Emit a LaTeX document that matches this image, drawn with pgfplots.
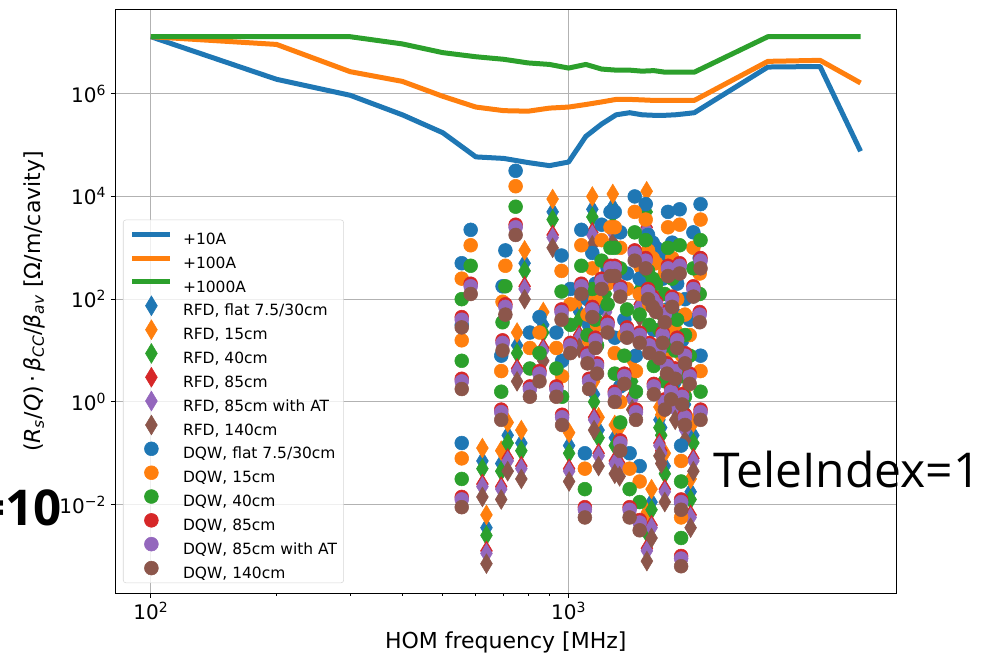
\documentclass[border=0pt]{standalone}
\usepackage{fontspec}
\setmainfont{DejaVu Sans}[ItalicFont={DejaVu Sans Oblique},BoldFont={DejaVu Sans Bold}]
\newfontfamily\telefont{Open Sans}
\usepackage{pgfplots}
\usepackage{pgfplotstable}
\pgfplotsset{compat=1.18}
\definecolor{cB}{HTML}{1F77B4}
\definecolor{cO}{HTML}{FF7F0E}
\definecolor{cG}{HTML}{2CA02C}
\definecolor{cR}{HTML}{D62728}
\definecolor{cP}{HTML}{9467BD}
\definecolor{cN}{HTML}{8C564B}
\pgfplotsset{
 lineleg/.style={legend image code/.code={\path[draw=none,fill=none] (0pt,-4.8pt) rectangle (38pt,12.8pt); \draw[##1,line width=3.75pt,fill opacity=1,draw opacity=1] (0pt,4pt) -- (28.5pt,4pt);}},
 markleg/.style={legend image code/.code={\path[draw=none,fill=none] (0pt,-4.8pt) rectangle (38pt,12.8pt); \draw[mark repeat=2,mark phase=2,##1,fill opacity=1,draw opacity=1] plot coordinates {(0pt,4pt) (14.25pt,4pt) (28.5pt,4pt)};}},
 dia/.style={only marks, mark=diamond*, mark size=7.4pt, mark options={xscale=0.8}, color=#1, markleg},
 cir/.style={only marks, mark=*, mark size=5.2pt, color=#1, markleg},
 hl/.style={line width=3.75pt, color=#1, line join=round, no marks, lineleg},
}
\pgfplotstableread{
f a b c
100 1.29e7 1.29e7 1.29e7
200 1.91e6 9.12e6 1.29e7
300 9.33e5 2.69e6 1.29e7
400 3.89e5 1.74e6 9.33e6
500 1.74e5 8.91e5 6.31e6
600 5.89e4 5.50e5 5.25e6
700 5.50e4 4.68e5 4.68e6
800 4.57e4 4.57e5 3.98e6
900 3.98e4 5.25e5 3.72e6
1000 4.68e4 5.50e5 3.16e6
1100 1.48e5 6.17e5 3.72e6
1200 2.57e5 6.92e5 3.02e6
1300 3.89e5 7.76e5 2.88e6
1400 4.27e5 7.76e5 2.88e6
1500 3.89e5 7.59e5 2.75e6
1600 3.80e5 7.41e5 2.82e6
1700 3.80e5 7.41e5 2.63e6
1800 3.89e5 7.41e5 2.63e6
1900 4.07e5 7.41e5 2.63e6
2000 4.27e5 7.41e5 2.63e6
3000 3.31e6 4.27e6 1.29e7
4000 3.39e6 4.47e6 1.29e7
5000 7.59e4 1.62e6 1.29e7
}\lines
\pgfplotstableread{
f b o g r p n
622 7.08e-2 1.26e-1 5.01e-2 2.51e-2 2.24e-2 1.41e-2
636 3.55e-3 6.31e-3 2.51e-3 1.26e-3 1.12e-3 7.08e-4
690 6.31e-2 1.12e-1 4.47e-2 2.24e-2 2.00e-2 1.26e-2
715 2.24e-1 3.98e-1 1.58e-1 7.94e-2 7.08e-2 4.47e-2
753 1.26e1 2.24e1 8.91 4.47 3.98 2.51
771 1.58e-1 2.82e-1 1.12e-1 5.62e-2 5.01e-2 3.16e-2
785 5.01e2 8.91e2 3.55e2 1.78e2 1.58e2 1.00e2
870 3.16e1 5.62e1 2.24e1 1.12e1 1.00e1 6.31
916 5.01e3 8.91e3 3.55e3 1.78e3 1.58e3 1.00e3
1003 1.41e-1 2.51e-1 1.00e-1 5.01e-2 4.47e-2 2.82e-2
1060 5.62e1 1.00e2 3.98e1 2.00e1 1.78e1 1.12e1
1140 5.62e3 1.00e4 3.98e3 2.00e3 1.78e3 1.12e3
1151 1.41 2.51 1.00 5.01e-1 4.47e-1 2.82e-1
1180 2.82e-1 5.01e-1 2.00e-1 1.00e-1 8.91e-2 5.62e-2
1230 1.78e2 3.16e2 1.26e2 6.31e1 5.62e1 3.55e1
1276 6.31e3 1.12e4 4.47e3 2.24e3 2.00e3 1.26e3
1290 2.00e-1 3.55e-1 1.41e-1 7.08e-2 6.31e-2 3.98e-2
1325 1.78e-1 3.16e-1 1.26e-1 6.31e-2 5.62e-2 3.55e-2
1420 3.55 6.31 2.51 1.26 1.12 7.08e-1
1480 2.24e2 3.98e2 1.58e2 7.94e1 7.08e1 4.47e1
1538 7.08e3 1.26e4 5.01e3 2.51e3 2.24e3 1.41e3
1540 3.98e-3 7.08e-3 2.82e-3 1.41e-3 1.26e-3 7.94e-4
1580 1.12e-2 2.00e-2 7.94e-3 3.98e-3 3.55e-3 2.24e-3
1650 4.47e-1 7.94e-1 3.16e-1 1.58e-1 1.41e-1 8.91e-2
1667 3.16e-1 5.62e-1 2.24e-1 1.12e-1 1.00e-1 6.31e-2
1700 5.62e-2 1.00e-1 3.98e-2 2.00e-2 1.78e-2 1.12e-2
1800 2.24 3.98 1.58 7.94e-1 7.08e-1 4.47e-1
1900 8.91e-1 1.58 6.31e-1 3.16e-1 2.82e-1 1.78e-1
1960 1.78e-2 3.16e-2 1.26e-2 6.31e-3 5.62e-3 3.55e-3
1990 2.24e-1 3.98e-1 1.58e-1 7.94e-2 7.08e-2 4.47e-2
}\rfd
\pgfplotstableread{
f b o g r p n
555 5.01e2 2.51e2 1.00e2 4.47e1 3.98e1 2.82e1
555 3.16e1 1.58e1 6.31 2.82 2.51 1.78
555 1.58e-1 7.94e-2 3.16e-2 1.41e-2 1.26e-2 8.91e-3
583 2.24e3 1.12e3 4.47e2 2.00e2 1.78e2 1.26e2
690 7.94 3.98 1.58 7.08e-1 6.31e-1 4.47e-1
695 1.78e2 8.91e1 3.55e1 1.58e1 1.41e1 1.00e1
706 8.91e2 4.47e2 1.78e2 7.94e1 7.08e1 5.01e1
747 3.16e4 1.58e4 6.31e3 2.82e3 2.51e3 1.78e3
808 2.24e1 1.12e1 4.47 2.00 1.78 1.26
852 4.47e1 2.24e1 8.91 3.98 3.55 2.51
935 2.24e1 1.12e1 4.47 2.00 1.78 1.26
962 7.08e2 3.55e2 1.41e2 6.31e1 5.62e1 3.98e1
965 6.31 3.16 1.26 5.62e-1 5.01e-1 3.55e-1
1010 1.58e2 7.94e1 3.16e1 1.41e1 1.26e1 8.91
1073 2.24e3 1.12e3 4.47e2 2.00e2 1.78e2 1.26e2
1094 1.00e-1 5.01e-2 2.00e-2 8.91e-3 7.94e-3 5.62e-3
1110 1.00e2 5.01e1 2.00e1 8.91 7.94 5.62
1120 3.16e1 1.58e1 6.31 2.82 2.51 1.78
1140 7.94e2 3.98e2 1.58e2 7.08e1 6.31e1 4.47e1
1160 2.00e2 1.00e2 3.98e1 1.78e1 1.58e1 1.12e1
1170 6.31e1 3.16e1 1.26e1 5.62 5.01 3.55
1200 2.82e3 1.41e3 5.62e2 2.51e2 2.24e2 1.58e2
1240 3.98e2 2.00e2 7.94e1 3.55e1 3.16e1 2.24e1
1260 5.01e3 2.51e3 1.00e3 4.47e2 3.98e2 2.82e2
1290 5.01e3 2.51e3 1.00e3 4.47e2 3.98e2 2.82e2
1290 1.78e1 8.91 3.55 1.58 1.41 1.00
1330 2.00e3 1.00e3 3.98e2 1.78e2 1.58e2 1.12e2
1330 2.00 1.00 3.98e-1 1.78e-1 1.58e-1 1.12e-1
1360 3.98e1 2.00e1 7.94 3.55 3.16 2.24
1380 3.16e2 1.58e2 6.31e1 2.82e1 2.51e1 1.78e1
1400 1.00e-1 5.01e-2 2.00e-2 8.91e-3 7.94e-3 5.62e-3
1440 1.00e4 5.01e3 2.00e3 8.91e2 7.94e2 5.62e2
1450 7.94 3.98 1.58 7.08e-1 6.31e-1 4.47e-1
1480 2.51e2 1.26e2 5.01e1 2.24e1 2.00e1 1.41e1
1480 5.62e-2 2.82e-2 1.12e-2 5.01e-3 4.47e-3 3.16e-3
1530 7.08e3 3.55e3 1.41e3 6.31e2 5.62e2 3.98e2
1550 1.78e3 8.91e2 3.55e2 1.58e2 1.41e2 1.00e2
1560 1.58e2 7.94e1 3.16e1 1.41e1 1.26e1 8.91
1590 1.26e3 6.31e2 2.51e2 1.12e2 1.00e2 7.08e1
1600 2.51e1 1.26e1 5.01 2.24 2.00 1.41
1620 1.00e3 5.01e2 2.00e2 8.91e1 7.94e1 5.62e1
1650 1.26e2 6.31e1 2.51e1 1.12e1 1.00e1 7.08
1680 2.51e2 1.26e2 5.01e1 2.24e1 2.00e1 1.41e1
1700 6.31e2 3.16e2 1.26e2 5.62e1 5.01e1 3.55e1
1700 1.26e1 6.31 2.51 1.12 1.00 7.08e-1
1720 6.31e1 3.16e1 1.26e1 5.62 5.01 3.55
1730 5.01e3 2.51e3 1.00e3 4.47e2 3.98e2 2.82e2
1760 2.00e1 1.00e1 3.98 1.78 1.58 1.12
1770 1.26e3 6.31e2 2.51e2 1.12e2 1.00e2 7.08e1
1800 5.01e1 2.51e1 1.00e1 4.47 3.98 2.82
1820 2.00e2 1.00e2 3.98e1 1.78e1 1.58e1 1.12e1
1845 5.62e3 2.82e3 1.12e3 5.01e2 4.47e2 3.16e2
1860 1.41e-1 7.08e-2 2.82e-2 1.26e-2 1.12e-2 7.94e-3
1860 1.12e-2 5.62e-3 2.24e-3 1.00e-3 8.91e-4 6.31e-4
1870 1.58e1 7.94 3.16 1.41 1.26 8.91e-1
1900 1.00e2 5.01e1 2.00e1 8.91 7.94 5.62
1900 6.31 3.16 1.26 5.62e-1 5.01e-1 3.55e-1
1950 3.98e1 2.00e1 7.94 3.55 3.16 2.24
1990 2.00e3 1.00e3 3.98e2 1.78e2 1.58e2 1.12e2
2060 6.31e2 3.16e2 1.26e2 5.62e1 5.01e1 3.55e1
2070 7.08e3 3.55e3 1.41e3 6.31e2 5.62e2 3.98e2
2070 7.94 3.98 1.58 7.08e-1 6.31e-1 4.47e-1
}\dqw
\begin{document}
\begin{tikzpicture}
\useasboundingbox (0pt,0pt) rectangle (738pt,492.75pt);
\begin{axis}[
 at={(86.6pt,48pt)}, anchor=south west,
 scale only axis, width=585.4pt, height=437.25pt,
 xmode=log, ymode=log,
 xmin=82.3, xmax=6080, ymin=1.9e-4, ymax=4.27e7,
 xtick={100,1000}, xticklabels={10\textsuperscript{2},10\textsuperscript{3}},
 ytick={1e-2,1,1e2,1e4,1e6},
 yticklabels={10\textsuperscript{−2},10\textsuperscript{0},10\textsuperscript{2},10\textsuperscript{4},10\textsuperscript{6}},
 yminorticks=false,
 grid=major, major grid style={color=black!30, line width=0.75pt},
 tick align=outside, tick pos=left,
 major tick length=3.4pt, minor tick length=1.9pt,
 every tick/.style={black, line width=0.6pt},
 axis line style={line width=0.75pt},
 ticklabel style={font=\fontsize{15}{18}\selectfont},
 label style={font=\fontsize{16.5}{20}\selectfont},
 xlabel={HOM frequency [MHz]},
 xlabel style={yshift=-2pt},
 ylabel={(\textit{R}\textsubscript{\textit{s}}/\textit{Q})\,·\,\textit{β}\textsubscript{\textit{CC}}/\textit{β}\textsubscript{\textit{av}} [Ω/m/cavity]},
 ylabel style={yshift=4pt},
 legend cell align=left,
 legend style={at={(0.0096,0.017)}, anchor=south west,
   font=\fontsize{11.6}{13}\selectfont,
   draw=black!20, rounded corners=2pt, fill=white, fill opacity=0.8, draw opacity=0.8, text opacity=1,
   inner xsep=5pt, inner ysep=2pt, row sep=0pt,
   nodes={inner sep=0pt}},
]
\addplot[hl=cB] table[x=f,y=a]{\lines}; \addlegendentry{+10A}
\addplot[hl=cO] table[x=f,y=b]{\lines}; \addlegendentry{+100A}
\addplot[hl=cG] table[x=f,y=c]{\lines}; \addlegendentry{+1000A}
\addplot[dia=cB] table[x=f,y=b]{\rfd}; \addlegendentry{RFD, flat 7.5/30cm}
\addplot[dia=cO] table[x=f,y=o]{\rfd}; \addlegendentry{RFD, 15cm}
\addplot[dia=cG] table[x=f,y=g]{\rfd}; \addlegendentry{RFD, 40cm}
\addplot[dia=cR] table[x=f,y=r]{\rfd}; \addlegendentry{RFD, 85cm}
\addplot[dia=cP] table[x=f,y=p]{\rfd}; \addlegendentry{RFD, 85cm with AT}
\addplot[dia=cN] table[x=f,y=n]{\rfd}; \addlegendentry{RFD, 140cm}
\addplot[cir=cB] table[x=f,y=b]{\dqw}; \addlegendentry{DQW, flat 7.5/30cm}
\addplot[cir=cO] table[x=f,y=o]{\dqw}; \addlegendentry{DQW, 15cm}
\addplot[cir=cG] table[x=f,y=g]{\dqw}; \addlegendentry{DQW, 40cm}
\addplot[cir=cR] table[x=f,y=r]{\dqw}; \addlegendentry{DQW, 85cm}
\addplot[cir=cP] table[x=f,y=p]{\dqw}; \addlegendentry{DQW, 85cm with AT}
\addplot[cir=cN] table[x=f,y=n]{\dqw}; \addlegendentry{DQW, 140cm}
\end{axis}
\node[anchor=base west, inner sep=0pt, font=\telefont\fontsize{36}{40}\selectfont] at (534.75pt,127.5pt) {TeleIndex=1};
\node[anchor=base east, inner sep=0pt, font=\telefont\bfseries\fontsize{37}{40}\selectfont] at (46.5pt,99pt) {=10};
\end{tikzpicture}
\end{document}
